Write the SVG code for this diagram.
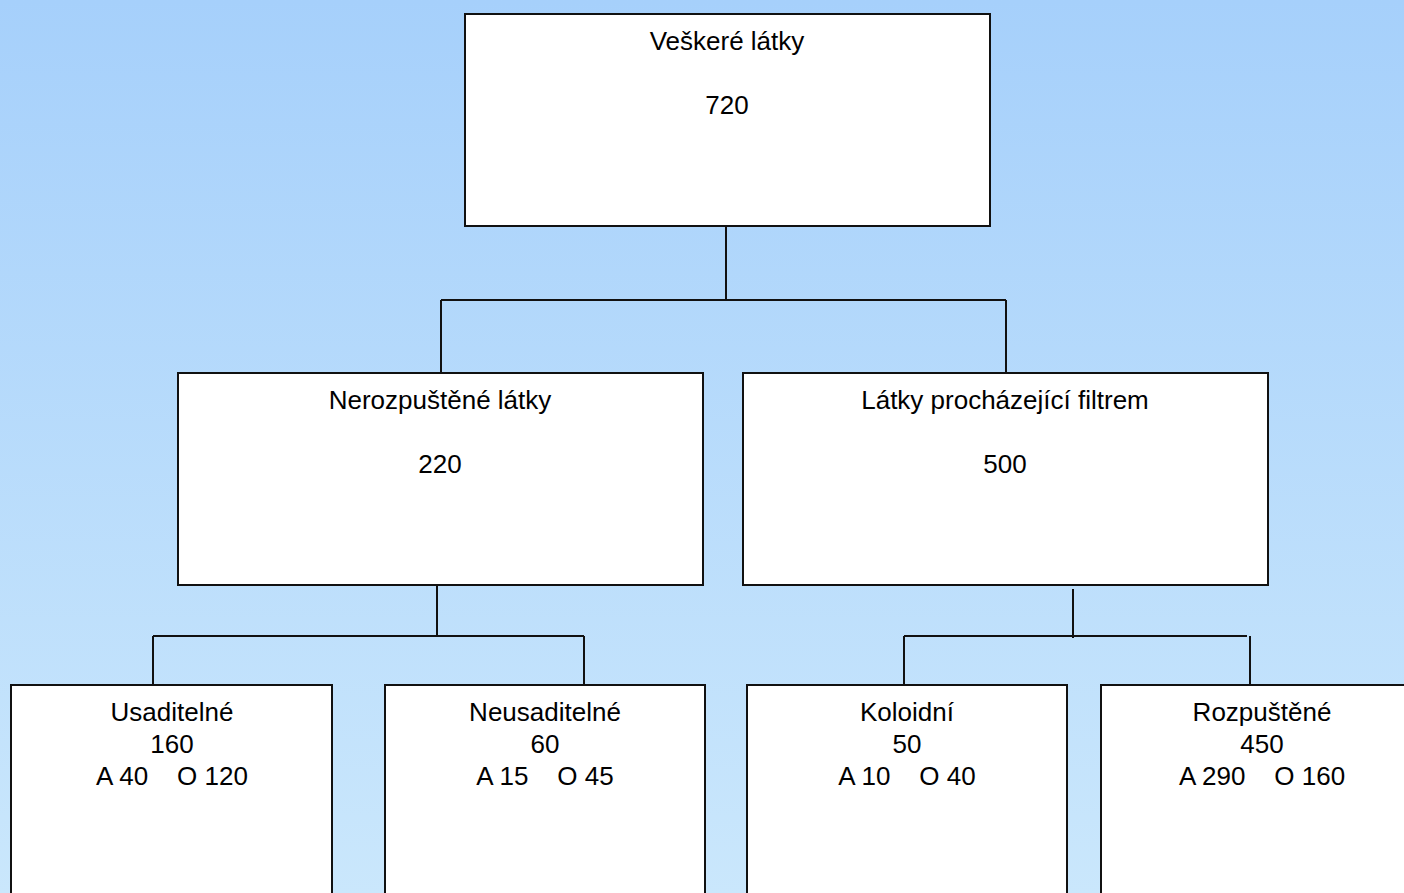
<svg xmlns="http://www.w3.org/2000/svg" width="1404" height="893" viewBox="0 0 1404 893">
<defs>
<linearGradient id="bg" x1="0" y1="0" x2="0" y2="1">
<stop offset="0" stop-color="#a6d0fb"/>
<stop offset="1" stop-color="#cae7fc"/>
</linearGradient>
<style>
.box{fill:#ffffff;stroke:#111111;stroke-width:2}
.ln{fill:none;stroke:#111111;stroke-width:2}
text{font-family:"Liberation Sans",Arial,sans-serif;font-size:26px;fill:#000000;text-anchor:middle;white-space:pre}
</style>
</defs>
<rect x="0" y="0" width="1404" height="893" fill="url(#bg)"/>
<g id="connectors">
<path class="ln" d="M726 226 V300 M441 300 H1006 M441 300 V373 M1006 300 V373"/>
<path class="ln" d="M437 585 V636 M153 636 H584 M153 636 V685 M584 636 V685"/>
<path class="ln" d="M1073 589 V638 M904 636 H1247 M904 636 V685 M1250 636 V685"/>
</g>
<g id="n-veskere">
<rect class="box" x="465" y="14" width="525" height="212"/>
<text x="727" y="50">Veškeré látky</text>
<text x="727" y="114">720</text>
</g>
<g id="n-nerozpustene">
<rect class="box" x="178" y="373" width="525" height="212"/>
<text x="440" y="409">Nerozpuštěné látky</text>
<text x="440" y="473">220</text>
</g>
<g id="n-filtrem">
<rect class="box" x="743" y="373" width="525" height="212"/>
<text x="1005" y="409">Látky procházející filtrem</text>
<text x="1005" y="473">500</text>
</g>
<g id="n-usaditelne">
<rect class="box" x="11" y="685" width="321" height="230"/>
<text x="172" y="721">Usaditelné</text>
<text x="172" y="753">160</text>
<text x="172" y="785">A 40    O 120</text>
</g>
<g id="n-neusaditelne">
<rect class="box" x="385" y="685" width="320" height="230"/>
<text x="545" y="721">Neusaditelné</text>
<text x="545" y="753">60</text>
<text x="545" y="785">A 15    O 45</text>
</g>
<g id="n-koloidni">
<rect class="box" x="747" y="685" width="320" height="230"/>
<text x="907" y="721">Koloidní</text>
<text x="907" y="753">50</text>
<text x="907" y="785">A 10    O 40</text>
</g>
<g id="n-rozpustene">
<rect class="box" x="1101" y="685" width="322" height="230"/>
<text x="1262" y="721">Rozpuštěné</text>
<text x="1262" y="753">450</text>
<text x="1262" y="785">A 290    O 160</text>
</g>
</svg>
